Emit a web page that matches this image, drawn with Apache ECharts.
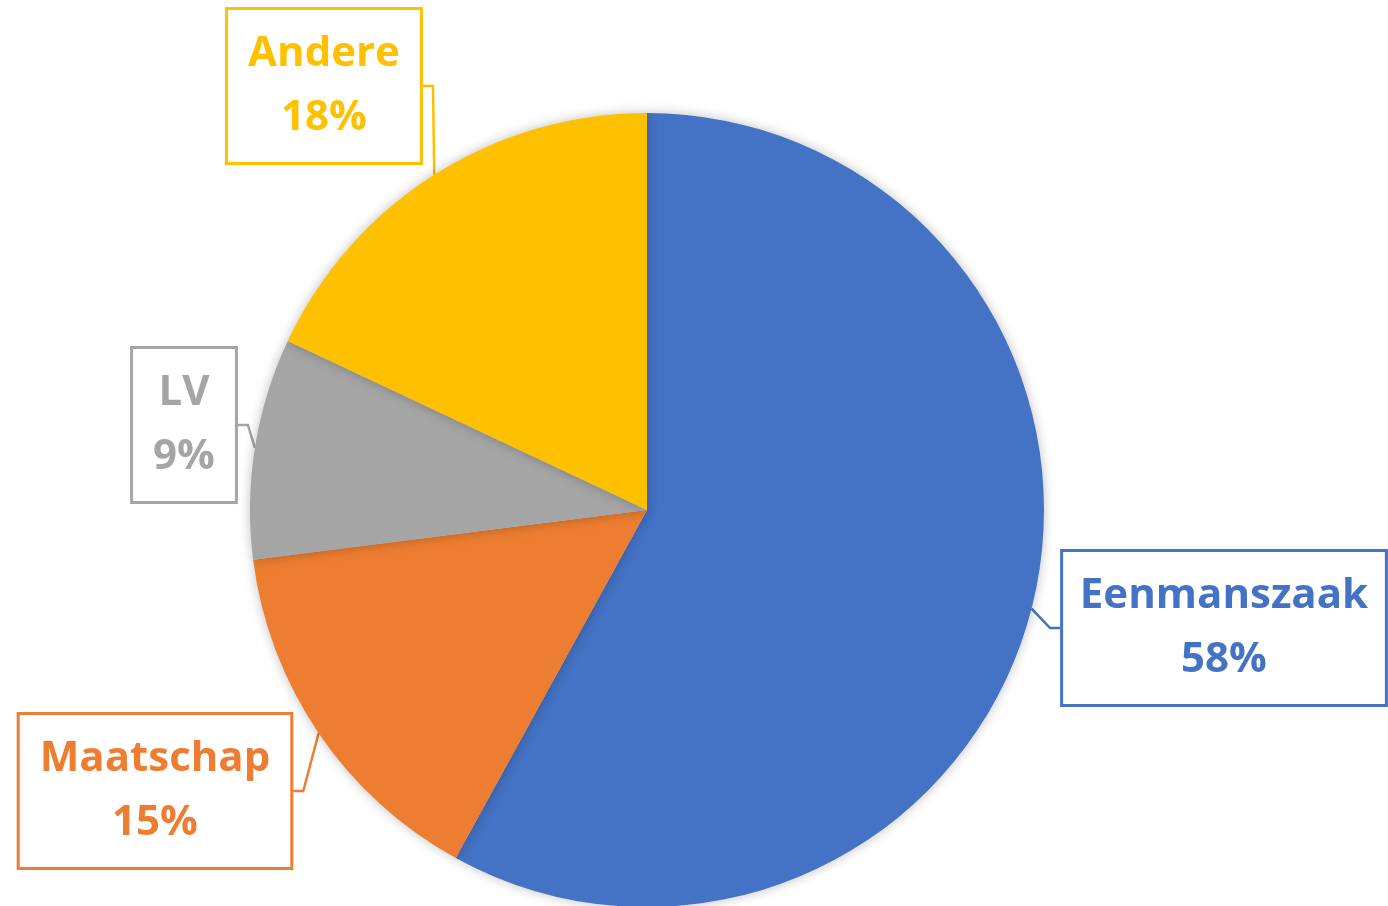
<!DOCTYPE html>
<html>
<head>
<meta charset="utf-8">
<script src="https://cdn.jsdelivr.net/npm/echarts@6/dist/echarts.min.js"></script>
<style>
html, body { margin: 0; padding: 0; background: #fff; }
#pieChart { width: 1388px; height: 906px; }
</style>
</head>
<body>
<div id="pieChart"></div>
<script>
var categories = ['Eenmanszaak', 'Maatschap', 'LV', 'Andere'];
var values = [58, 15, 9, 18];
var colors = ['#4472C4', '#ED7D31', '#A5A5A5', '#FFC000'];

// centre of each callout box
var labelPos = [[1224, 628], [155, 791], [184, 425], [324, 86]];

var pieData = categories.map(function(name, i) {
	return {
		name: name,
		value: values[i],
		itemStyle: { color: colors[i] },
		label: { color: colors[i], borderColor: colors[i] },
		labelLine: { lineStyle: { color: colors[i] } }
	};
});

var myChart = echarts.init(document.getElementById('pieChart'));
var option = {
	animation: false,
	series: [{
		type: 'pie',
		center: [647, 510],
		radius: 397,
		startAngle: 90,
		clockwise: true,
		percentPrecision: 0,
		itemStyle: {
			shadowBlur: 12,
			shadowColor: 'rgba(0,0,0,0.25)'
		},
		label: {
			show: true,
			formatter: '{b}\n{d}%',
			fontFamily: 'Open Sans',
			fontWeight: 'bold',
			fontSize: 42,
			lineHeight: 64,
			align: 'center',
			overflow: 'none',
			backgroundColor: '#fff',
			borderWidth: 3,
			padding: [12, 20]
		},
		labelLine: {
			show: true,
			length: 10,
			length2: 10,
			lineStyle: { width: 2.5 }
		},
		labelLayout: function(params) {
			var p = labelPos[params.dataIndex];
			return { x: p[0], y: p[1], align: 'center', verticalAlign: 'middle' };
		},
		data: pieData
	}]
};
myChart.setOption(option);
</script>
</body>
</html>
